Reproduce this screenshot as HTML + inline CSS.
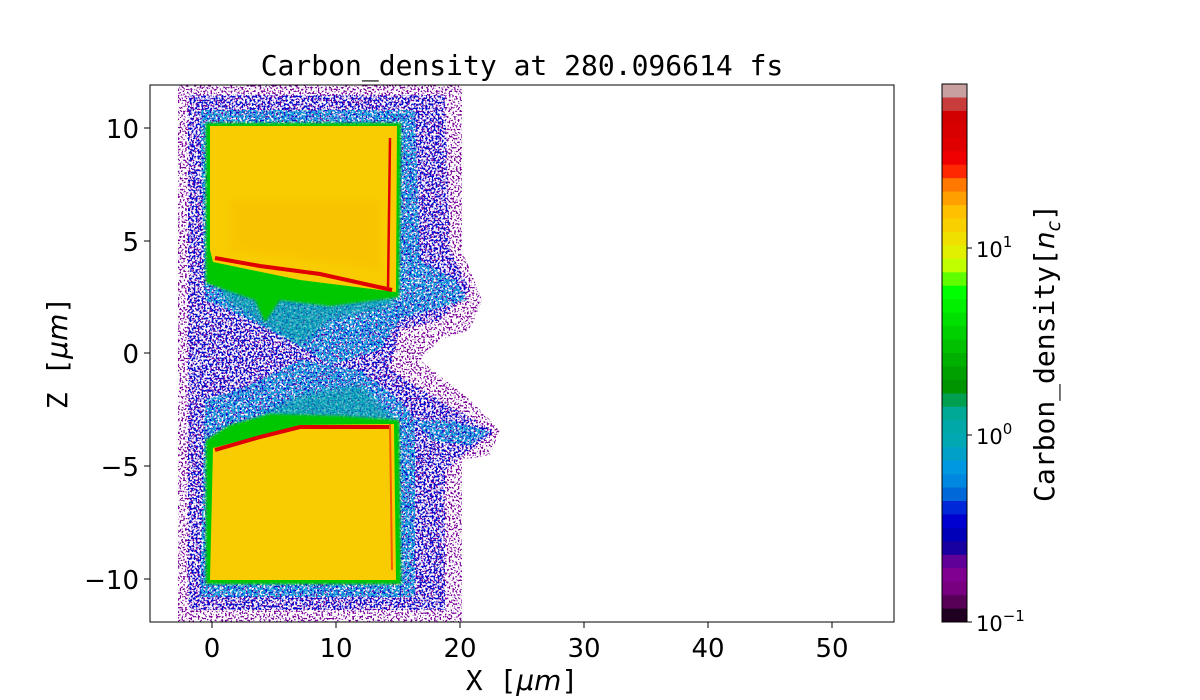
<!DOCTYPE html>
<html><head><meta charset="utf-8"><style>
body{margin:0;background:#fff;width:1200px;height:700px;overflow:hidden}
svg{display:block}
.t{font-family:"DejaVu Sans",sans-serif;font-size:26px;fill:#000}
.m{font-family:"DejaVu Sans Mono","Liberation Mono",monospace;fill:#000}
</style></head><body>
<svg width="1200" height="700" viewBox="0 0 1200 700" xmlns="http://www.w3.org/2000/svg">
<defs>
<filter id="spk" x="0" y="0" width="100%" height="100%">
<feTurbulence type="fractalNoise" baseFrequency="0.55" numOctaves="1" seed="3" result="n"/>
<feColorMatrix in="n" type="matrix" values="0 0 0 0 0  0 0 0 0 0  0 0 0 0 0  0 0 0 -12 5.7" result="a"/>
<feComposite in="SourceGraphic" in2="a" operator="in"/>
</filter>
<filter id="spk2" x="0" y="0" width="100%" height="100%">
<feTurbulence type="fractalNoise" baseFrequency="0.5" numOctaves="1" seed="7" result="n"/>
<feColorMatrix in="n" type="matrix" values="0 0 0 0 0  0 0 0 0 0  0 0 0 0 0  0 0 0 -10 5.0" result="a"/>
<feComposite in="SourceGraphic" in2="a" operator="in"/>
</filter>
<filter id="spk3" x="0" y="0" width="100%" height="100%">
<feTurbulence type="fractalNoise" baseFrequency="0.5" numOctaves="1" seed="11" result="n"/>
<feColorMatrix in="n" type="matrix" values="0 0 0 0 0  0 0 0 0 0  0 0 0 0 0  0 0 0 -9 5.0" result="a"/>
<feComposite in="SourceGraphic" in2="a" operator="in"/>
</filter>
<filter id="bl"><feGaussianBlur stdDeviation="3"/></filter>
<filter id="bl2"><feGaussianBlur stdDeviation="1.2"/></filter>
<clipPath id="pc"><rect x="150" y="85" width="744" height="537"/></clipPath>
</defs>
<g clip-path="url(#pc)">
<g filter="url(#spk)">
<path d="M178,85 L462,85 L462,250 L482,300 L470,330 L440,340 L420,360 L470,400 L500,430 L490,455 L462,460 L462,622 L178,622 Z" fill="#7a0098"/>
</g>
<g filter="url(#spk2)">
<path d="M188,95 L445,95 L450,250 L470,290 L440,320 L400,330 L390,370 L440,400 L495,432 L470,450 L445,470 L445,610 L188,610 Z" fill="#0010d0"/>
</g>
<g filter="url(#spk3)">
<path d="M200,110 L415,110 L420,260 L455,280 L468,300 L430,310 L400,320 L380,350 L330,365 L290,340 L250,320 L205,300 Z" fill="#10a0d8"/>
<path d="M200,597 L415,597 L415,420 L450,420 L490,432 L470,445 L430,440 L400,400 L360,370 L300,360 L250,385 L205,400 Z" fill="#10a0d8"/>
</g>
<path d="M215,275 L395,290 L392,305 L330,320 L300,345 L260,322 L225,300 Z" fill="#00a8a8" filter="url(#bl)" opacity="0.6"/>
<path d="M215,440 L300,395 L360,385 L395,420 L330,425 L215,450 Z" fill="#00a8a8" filter="url(#bl)" opacity="0.6"/>
<path d="M206,123 L401,123 L399,297 L330,306 L280,300 L265,322 L255,300 L206,283 Z" fill="#00c800" filter="url(#bl2)"/>
<path d="M206,584 L401,584 L399,420 L340,416 L270,414 L230,425 L206,440 Z" fill="#00c800" filter="url(#bl2)"/>
<path d="M210,126 L397,126 L396,292 L300,280 L213,262 L210,250 Z" fill="#f8cc00"/>
<path d="M210,580 L396,580 L394,424 L300,425 L213,448 Z" fill="#f8cc00"/>
<path d="M230,200 L380,200 L380,270 L230,250Z" fill="#fab800" opacity="0.4" filter="url(#bl)"/>
<path d="M215,258 L260,266 L320,274 L392,290" stroke="#e00000" stroke-width="4" fill="none"/>
<path d="M390,138 L388,290" stroke="#e00000" stroke-width="2.5" fill="none"/>
<path d="M215,450 L260,437 L300,427 L390,427" stroke="#e00000" stroke-width="4" fill="none"/>
<path d="M390,424 L392,570" stroke="#f06000" stroke-width="2" fill="none"/>
</g>
<rect x="150" y="85" width="744" height="537" fill="none" stroke="#000" stroke-width="1"/>
<g stroke="#000">
<line x1="212" y1="622" x2="212" y2="628"/><line x1="336" y1="622" x2="336" y2="628"/><line x1="460" y1="622" x2="460" y2="628"/><line x1="584" y1="622" x2="584" y2="628"/><line x1="708" y1="622" x2="708" y2="628"/><line x1="832" y1="622" x2="832" y2="628"/>
<line x1="144" y1="128" x2="150" y2="128"/><line x1="144" y1="241" x2="150" y2="241"/><line x1="144" y1="353" x2="150" y2="353"/><line x1="144" y1="466" x2="150" y2="466"/><line x1="144" y1="579" x2="150" y2="579"/>
</g>
<g class="t" text-anchor="middle">
<text x="212" y="657">0</text><text x="336" y="657">10</text><text x="460" y="657">20</text><text x="584" y="657">30</text><text x="708" y="657">40</text><text x="832" y="657">50</text>
</g>
<g class="t" text-anchor="end">
<text x="139" y="138">10</text><text x="139" y="251">5</text><text x="139" y="363">0</text><text x="139" y="476">−5</text><text x="139" y="589">−10</text>
</g>
<text class="m" x="522" y="75" font-size="28" text-anchor="middle">Carbon_density at 280.096614 fs</text>
<text class="m" x="522" y="690" font-size="28" text-anchor="middle">X [<tspan font-style="italic" font-family="DejaVu Sans">μm</tspan>]</text>
<text class="m" font-size="28" text-anchor="middle" transform="translate(67,353) rotate(-90)">Z [<tspan font-style="italic" font-family="DejaVu Sans">μm</tspan>]</text>
<g>
<rect x="942" y="84.0" width="25" height="14.1" fill="#c8a0a0"/><rect x="942" y="97.5" width="25" height="14.1" fill="#c83c3c"/><rect x="942" y="110.9" width="25" height="14.1" fill="#d20000"/><rect x="942" y="124.4" width="25" height="14.1" fill="#d80000"/><rect x="942" y="137.8" width="25" height="14.1" fill="#e00000"/><rect x="942" y="151.3" width="25" height="14.1" fill="#f00000"/><rect x="942" y="164.7" width="25" height="14.1" fill="#ff2800"/><rect x="942" y="178.2" width="25" height="14.1" fill="#ff7800"/><rect x="942" y="191.6" width="25" height="14.1" fill="#ffa000"/><rect x="942" y="205.1" width="25" height="14.1" fill="#ffc000"/><rect x="942" y="218.5" width="25" height="14.1" fill="#f8d000"/><rect x="942" y="232.0" width="25" height="14.1" fill="#f0e000"/><rect x="942" y="245.4" width="25" height="14.1" fill="#e0f000"/><rect x="942" y="258.9" width="25" height="14.1" fill="#c0ff00"/><rect x="942" y="272.3" width="25" height="14.1" fill="#60ff00"/><rect x="942" y="285.8" width="25" height="14.1" fill="#00ff00"/><rect x="942" y="299.2" width="25" height="14.1" fill="#00f000"/><rect x="942" y="312.7" width="25" height="14.1" fill="#00e000"/><rect x="942" y="326.1" width="25" height="14.1" fill="#00d000"/><rect x="942" y="339.6" width="25" height="14.1" fill="#00c000"/><rect x="942" y="353.0" width="25" height="14.1" fill="#00b000"/><rect x="942" y="366.5" width="25" height="14.1" fill="#00a000"/><rect x="942" y="379.9" width="25" height="14.1" fill="#009400"/><rect x="942" y="393.4" width="25" height="14.1" fill="#00a050"/><rect x="942" y="406.8" width="25" height="14.1" fill="#00a896"/><rect x="942" y="420.3" width="25" height="14.1" fill="#00a8a8"/><rect x="942" y="433.7" width="25" height="14.1" fill="#00a8b4"/><rect x="942" y="447.2" width="25" height="14.1" fill="#00a0c8"/><rect x="942" y="460.6" width="25" height="14.1" fill="#0098e0"/><rect x="942" y="474.1" width="25" height="14.1" fill="#0088e0"/><rect x="942" y="487.5" width="25" height="14.1" fill="#0068d8"/><rect x="942" y="501.0" width="25" height="14.1" fill="#0028d8"/><rect x="942" y="514.4" width="25" height="14.1" fill="#0000d0"/><rect x="942" y="527.9" width="25" height="14.1" fill="#0000b8"/><rect x="942" y="541.3" width="25" height="14.1" fill="#1800a0"/><rect x="942" y="554.8" width="25" height="14.1" fill="#600098"/><rect x="942" y="568.2" width="25" height="14.1" fill="#800090"/><rect x="942" y="581.7" width="25" height="14.1" fill="#780080"/><rect x="942" y="595.1" width="25" height="14.1" fill="#580058"/><rect x="942" y="608.6" width="25" height="13.4" fill="#200020"/>
</g>
<rect x="942" y="84" width="25" height="538" fill="none" stroke="#000"/>
<g stroke="#000"><line x1="967" y1="248" x2="972" y2="248"/><line x1="967" y1="435" x2="972" y2="435"/><line x1="967" y1="622" x2="972" y2="622"/></g>
<g font-family="DejaVu Sans,sans-serif" font-size="21">
<text x="976" y="257">10<tspan dy="-10" font-size="15">1</tspan></text>
<text x="976" y="444">10<tspan dy="-10" font-size="15">0</tspan></text>
<text x="976" y="631">10<tspan dy="-10" font-size="15">−1</tspan></text>
</g>
<text class="m" font-size="28" text-anchor="middle" transform="translate(1054,353) rotate(-90)">Carbon_density[<tspan font-style="italic" font-family="DejaVu Sans">n</tspan><tspan font-style="italic" font-family="DejaVu Sans" font-size="19" dy="6">c</tspan><tspan dy="-6">]</tspan></text>
</svg>
</body></html>
